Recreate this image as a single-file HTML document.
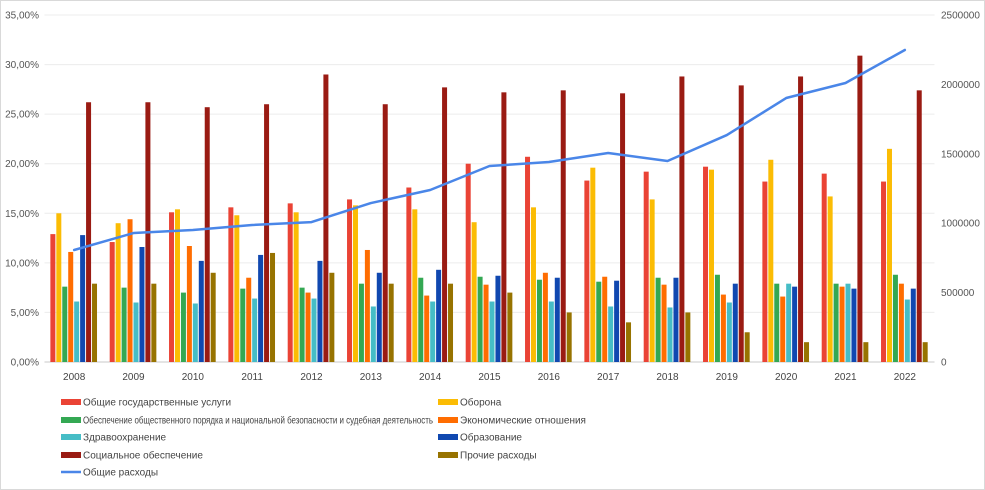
<!DOCTYPE html>
<html><head><meta charset="utf-8"><style>
html,body{margin:0;padding:0;background:#fff;}
svg{display:block;font-family:"Liberation Sans",sans-serif;}
</style></head><body>
<svg id="chart" width="985" height="490" viewBox="0 0 985 490" xmlns="http://www.w3.org/2000/svg">
<rect x="0.5" y="0.5" width="984" height="489" fill="#fff" stroke="#d9d9d9"/>
<g id="grid"></g>
<g id="bars"></g>
<g id="line"></g>
<g id="axes"></g>
<g id="legend"></g>
</svg>
<script>
const years = ["2008","2009","2010","2011","2012","2013","2014","2015","2016","2017","2018","2019","2020","2021","2022"];
const seriesNames = ["Общие государственные услуги","Оборона","Обеспечение общественного порядка и национальной безопасности и судебная деятельность","Экономические отношения","Здравоохранение","Образование","Социальное обеспечение","Прочие расходы"];
const generalServices = [12.9,12.1,15.1,15.6,16.0,16.4,17.6,20.0,20.7,18.3,19.2,19.7,18.2,19.0,18.2];
const defense = [15.0,14.0,15.4,14.8,15.1,15.8,15.4,14.1,15.6,19.6,16.4,19.4,20.4,16.7,21.5];
const publicOrder = [7.6,7.5,7.0,7.4,7.5,7.9,8.5,8.6,8.3,8.1,8.5,8.8,7.9,7.9,8.8];
const economic = [11.1,14.4,11.7,8.5,7.0,11.3,6.7,7.8,9.0,8.6,7.8,6.8,6.6,7.6,7.9];
const health = [6.1,6.0,5.9,6.4,6.4,5.6,6.1,6.1,6.1,5.6,5.5,6.0,7.9,7.9,6.3];
const education = [12.8,11.6,10.2,10.8,10.2,9.0,9.3,8.7,8.5,8.2,8.5,7.9,7.6,7.4,7.4];
const social = [26.2,26.2,25.7,26.0,29.0,26.0,27.7,27.2,27.4,27.1,28.8,27.9,28.8,30.9,27.4];
const other = [7.9,7.9,9.0,11.0,9.0,7.9,7.9,7.0,5.0,4.0,5.0,3.0,2.0,2.0,2.0];
const totalSpending = [807000,929000,951000,987000,1008000,1145000,1239000,1412000,1441000,1506000,1448000,1635000,1902000,2010000,2248000];
const leftTicks = ["0,00%","5,00%","10,00%","15,00%","20,00%","25,00%","30,00%","35,00%"];
const rightTicks = ["0","500000","1000000","1500000","2000000","2500000"];

const colors = ["#ea4335","#fbbc04","#34a853","#ff6d01","#46bdc6","#1048b0","#9a1b13","#977300"];
const allSeries = [generalServices,defense,publicOrder,economic,health,education,social,other];
const NS="http://www.w3.org/2000/svg";
const X0=44.5, X1=934.5, Y0=362, Y1=15;
const band=(X1-X0)/years.length;
const yL=v=>Y0-(v/35)*(Y0-Y1);
const yR=v=>Y0-(v/2500000)*(Y0-Y1);
const xC=i=>X0+band*(i+0.5);
function mk(tag,attrs,parent){const e=document.createElementNS(NS,tag);for(const k in attrs)e.setAttribute(k,attrs[k]);parent.appendChild(e);return e;}
const grid=document.getElementById('grid'),bars=document.getElementById('bars'),lineG=document.getElementById('line'),axes=document.getElementById('axes'),legend=document.getElementById('legend');
leftTicks.forEach((t,i)=>{const y=yL(i*5);
 const l=mk('line',{x1:X0,x2:X1,y1:y,y2:y,stroke:i===0?'#c8c8c8':'#ececec','stroke-width':1},grid);
 
 
 const tx=mk('text',{x:39,y:y+3.5,'text-anchor':'end','font-size':10,fill:'#555'},axes);tx.textContent=t;
 
 
});
rightTicks.forEach((t,i)=>{const y=yR(i*500000);
 const tx=mk('text',{x:941,y:y+3.5,'font-size':10,fill:'#555'},axes);tx.textContent=t;
 
 
});
const bw=5, pitch=5.95;
years.forEach((yr,i)=>{
 const start=xC(i)-pitch*4;
 allSeries.forEach((s,k)=>{
  const y=yL(s[i]);
  const r=mk('rect',{x:start+k*pitch,y:y,width:bw,height:Y0-y,fill:colors[k]},bars);
  
  
 });
 const tx=mk('text',{x:xC(i),y:380,'text-anchor':'middle','font-size':10,fill:'#444'},axes);tx.textContent=yr;
 
 
});
const pts=totalSpending.map((v,i)=>xC(i)+','+yR(v)).join(' ');
const pl=mk('polyline',{points:pts,fill:'none',stroke:'#4a86e8','stroke-width':2.5,'stroke-linejoin':'round','stroke-linecap':'round'},lineG);


const legendItems=[[0,61,402],[1,438,402],[2,61,420],[3,438,420],[4,61,437],[5,438,437],[6,61,455],[7,438,455]];
legendItems.forEach(([k,x,y])=>{
 const g=mk('g',{},legend);
 
 
 mk('rect',{x:x,y:y-3,width:20,height:6,fill:colors[k]},g);
 const t=mk('text',{x:x+22,y:y+3.5,'font-size':10,fill:'#444'},g);t.textContent=seriesNames[k];
 if(k===2){t.setAttribute('textLength','350');t.setAttribute('lengthAdjust','spacingAndGlyphs');}
});
const g=mk('g',{},legend);


mk('line',{x1:61,x2:81,y1:472,y2:472,stroke:'#4a86e8','stroke-width':2.5},g);
const t=mk('text',{x:83,y:475.5,'font-size':10,fill:'#444'},g);t.textContent='Общие расходы';
</script>
</body></html>
